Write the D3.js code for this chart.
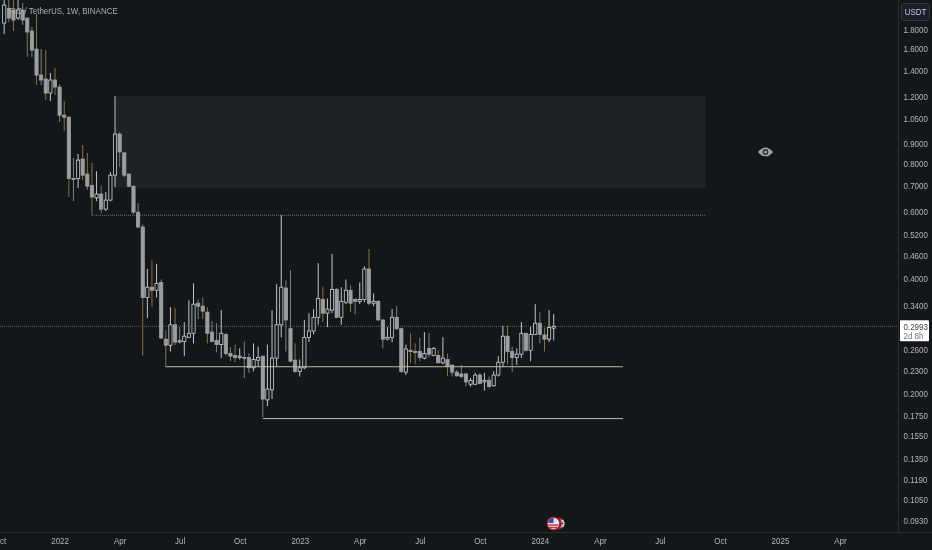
<!DOCTYPE html>
<html>
<head>
<meta charset="utf-8">
<script src="https://cdn.jsdelivr.net/npm/d3@7"></script>
<style>
html,body{margin:0;padding:0;background:#131719;overflow:hidden}
svg{display:block;filter:blur(.35px)}
text{font-family:"Liberation Sans",Arial,sans-serif}
</style>
</head>
<body>
<svg id="chart" width="932" height="550"></svg>
<script>
// Weekly candles, oldest first
const opens=[1.866,2.04,2.018,1.923,2.018,1.923,1.778,1.595,1.363,1.331,1.223,1.323,1.268,1.07,1.057,.73,.73,.821,.75,.70,.65,.665,.607,.641,.745,.955,.852,.75,.697,.596,.545,.356,.379,.372,.39,.277,.267,.302,.275,.273,.28,.287,.344,.338,.326,.289,.275,.268,.285,.254,.251,.248,.248,.248,.233,.244,.25,.192,.204,.247,.302,.377,.295,.244,.228,.233,.28,.291,.316,.352,.324,.33,.374,.316,.346,.372,.352,.348,.352,.423,.344,.348,.311,.277,.28,.316,.295,.227,.259,.257,.257,.247,.262,.251,.251,.24,.245,.237,.227,.2245,.2245,.211,.211,.223,.214,.216,.209,.223,.241,.282,.257,.248,.253,.287,.259,.285,.305,.284,.277,.296];
const highs=[2.144,2.17,2.144,2.157,2.105,1.923,1.82,1.97,1.595,1.585,1.38,1.422,1.29,1.165,1.064,.826,.847,.894,.852,.802,.763,.70,.673,.759,1.20,.966,.857,.75,.70,.629,.554,.423,.446,.436,.397,.2925,.336,.334,.298,.307,.35,.388,.352,.356,.336,.309,.305,.33,.287,.264,.268,.262,.273,.254,.27,.265,.25,.268,.33,.386,.585,.395,.42,.27,.245,.311,.324,.332,.438,.381,.354,.463,.377,.379,.397,.383,.354,.39,.43,.477,.365,.35,.3125,.298,.332,.338,.297,.268,.287,.27,.279,.289,.287,.264,.259,.28,.254,.237,.23,.237,.226,.219,.226,.226,.226,.221,.228,.25,.30,.30,.265,.262,.307,.287,.298,.342,.326,.297,.33,.322];
const lows=[1.747,1.877,1.778,1.90,1.843,1.519,1.519,1.283,1.283,1.172,1.165,1.208,1.027,.972,.653,.637,.689,.723,.681,.585,.637,.593,.60,.637,.693,.783,.736,.693,.589,.541,.251,.3145,.336,.356,.277,.234,.257,.267,.27,.25,.279,.27,.3125,.3125,.27,.272,.256,.247,.251,.2425,.241,.245,.219,.226,.228,.235,.173,.185,.193,.235,.28,.257,.241,.226,.221,.231,.272,.285,.302,.307,.298,.324,.3145,.302,.342,.326,.322,.342,.346,.34,.338,.309,.262,.275,.272,.2925,.226,.223,.24,.238,.2425,.245,.248,.25,.24,.238,.222,.221,.221,.219,.208,.208,.21,.211,.203,.206,.208,.221,.234,.238,.227,.237,.247,.257,.2425,.284,.27,.257,.272,.275];
const closes=[2.08,1.923,1.90,2.018,1.90,1.767,1.585,1.363,1.323,1.223,1.323,1.268,1.07,1.057,.73,.727,.816,.745,.697,.653,.665,.607,.641,.745,.955,.857,.745,.697,.596,.545,.356,.379,.372,.388,.279,.267,.302,.272,.272,.282,.287,.342,.338,.328,.287,.273,.268,.287,.254,.25,.248,.25,.247,.233,.245,.248,.193,.205,.247,.302,.379,.311,.2425,.228,.233,.28,.291,.316,.354,.324,.332,.374,.316,.348,.372,.344,.348,.352,.423,.344,.348,.311,.277,.28,.316,.295,.228,.261,.257,.256,.248,.254,.253,.262,.24,.247,.235,.227,.222,.221,.214,.216,.223,.212,.216,.208,.223,.241,.282,.257,.248,.253,.287,.259,.285,.305,.285,.277,.297,.2993];
const amberWicks=[2,5,7,9,11,13,14,17,18,19,21,25,30,32,35,37,43,44,50,63,69,75,79,88,89,94,96,109,116,117];

const tickWeeks=[-1,12,25,38,51,64,77,90,103,116,129,142,155,168,181];
const tickLabels=["Oct","2022","Apr","Jul","Oct","2023","Apr","Jul","Oct","2024","Apr","Jul","Oct","2025","Apr"];
const priceTicks=[1.8,1.6,1.4,1.2,1.05,.9,.8,.7,.6,.52,.46,.4,.34,.26,.23,.2,.175,.155,.135,.119,.105,.093];

const zonePrices=[1.2,.69];
const zoneWeeks=[24,152];
const dottedPrice=.585;
const dottedWeeks=[19,152];
const levelPrices=[.2345,.1715];
const levelStartWeeks=[35,56];
const levelEndWeek=134;
const lastPrice=.2993;
const countdown="2d 8h";

const svg=d3.select("#chart");
const x=d3.scaleLinear().domain([0,119]).range([4.2,553.7]);
const y=d3.scaleLog().domain([1.8,.093]).range([29,520]);
const bg="#131719";

// the reference's type is condensed: keep its height, narrow its advance
function condense(sel){
  sel.each(function(){
    const len=this.getComputedTextLength();
    d3.select(this).attr("textLength",len*.83).attr("lengthAdjust","spacingAndGlyphs");
  });
}

svg.append("rect").attr("width",932).attr("height",550).attr("fill",bg);

const plot=svg.append("g");
plot.append("rect")
  .attr("x",x(zoneWeeks[0])).attr("y",y(zonePrices[0]))
  .attr("width",x(zoneWeeks[1])-x(zoneWeeks[0])).attr("height",y(zonePrices[1])-y(zonePrices[0]))
  .attr("fill","#1e2225");

plot.append("line").attr("x1",0).attr("x2",898).attr("y1",y(lastPrice)).attr("y2",y(lastPrice))
  .attr("stroke","#6b5a4c").attr("stroke-width",1).attr("stroke-dasharray","1 1");

plot.append("line").attr("x1",x(dottedWeeks[0])).attr("x2",x(dottedWeeks[1]))
  .attr("y1",y(dottedPrice)).attr("y2",y(dottedPrice))
  .attr("stroke","#7d7668").attr("stroke-width",1).attr("stroke-dasharray","1 1");

const idx=d3.range(opens.length);
const candles=plot.append("g");
candles.selectAll("line").data(idx).join("line")
  .attr("x1",i=>x(i)).attr("x2",i=>x(i))
  .attr("y1",i=>y(highs[i])).attr("y2",i=>y(lows[i]))
  .attr("stroke",i=>amberWicks.includes(i)?"#8c6f45":(closes[i]>=opens[i]?"#c4c6c8":"#7e8184"))
  .attr("stroke-width",1);
candles.selectAll("rect").data(idx).join("rect")
  .attr("x",i=>x(i)-1.6).attr("width",3.2)
  .attr("y",i=>y(Math.max(opens[i],closes[i])))
  .attr("height",i=>Math.max(1,Math.abs(y(opens[i])-y(closes[i]))))
  .attr("fill",i=>closes[i]>=opens[i]?bg:"#9b9d9f")
  .attr("stroke",i=>closes[i]>=opens[i]?"#d0d1d2":"#a0a2a4")
  .attr("stroke-width",.8);

levelPrices.forEach((p,k)=>{
  plot.append("line").attr("x1",x(levelStartWeeks[k])).attr("x2",x(levelEndWeek))
    .attr("y1",y(p)).attr("y2",y(p)).attr("stroke","#bdbcb0").attr("stroke-width",1);
});

// Price axis
svg.append("rect").attr("x",898).attr("y",0).attr("width",34).attr("height",550).attr("fill",bg);
const yAxis=d3.axisRight(y).tickValues(priceTicks).tickFormat(d3.format(".4f")).tickSize(0).tickPadding(0);
const gy=svg.append("g").attr("transform","translate(903.5,0)").call(yAxis);
gy.select(".domain").remove();
gy.selectAll("text").attr("fill","#b4b6bc").attr("font-size",9.6).call(condense);
svg.append("line").attr("x1",898.5).attr("x2",898.5).attr("y1",0).attr("y2",550).attr("stroke","#2a2e31");

// Time axis
svg.append("rect").attr("x",0).attr("y",532).attr("width",932).attr("height",18).attr("fill",bg);
const xAxis=d3.axisBottom(x).tickValues(tickWeeks).tickFormat((d,i)=>tickLabels[i]).tickSize(0).tickPadding(5);
const gx=svg.append("g").attr("transform","translate(0,532)").call(xAxis);
gx.select(".domain").remove();
gx.selectAll("text").attr("fill","#b4b6bc").attr("font-size",9.6).call(condense);
svg.append("line").attr("x1",0).attr("x2",932).attr("y1",532.5).attr("y2",532.5).attr("stroke","#2a2e31");

// Header
svg.append("text").attr("x",9).attr("y",13.5).attr("font-size",9.6).attr("fill","#a9abb0").text("FIO / TetherUS, 1W, BINANCE").call(condense);

// Currency button
svg.append("rect").attr("x",901.5).attr("y",3.5).attr("width",28).attr("height",17).attr("rx",2)
  .attr("fill","#1b1f2b").attr("stroke","#34383f");
svg.append("text").attr("x",915.5).attr("y",15).attr("text-anchor","middle").attr("font-size",9.6)
  .attr("fill","#c4c6cc").text("USDT").call(condense);

// Last price tag
svg.append("rect").attr("x",900).attr("y",y(lastPrice)-6).attr("width",29).attr("height",21).attr("rx",1).attr("fill","#ffffff");
svg.append("text").attr("x",903.5).attr("y",y(lastPrice)+3.5).attr("font-size",9.6).attr("fill","#3a3d44").text(d3.format(".4f")(lastPrice)).call(condense);
svg.append("text").attr("x",903.5).attr("y",y(lastPrice)+12.8).attr("font-size",9.6).attr("fill","#6d7078").text(countdown).call(condense);

// Eye icon
const eye=svg.append("g").attr("transform","translate(765.5,152)");
eye.append("path").attr("d","M-7.5,0 Q0,-9 7.5,0 Q0,9 -7.5,0 Z").attr("fill","#a2a4a6");
eye.append("circle").attr("r",2.9).attr("fill","#2a2d2f");
eye.append("circle").attr("r",1.5).attr("fill","#a2a4a6");

// Economic event markers
const ev=svg.append("g").attr("transform","translate(553.5,523.5)");
ev.append("circle").attr("cx",5).attr("r",6.3).attr("fill","#7a1c2a");
ev.append("path").attr("d","M7,-3.5 a3.5,3.5 0 0 1 0,7 M7.5,-1.5 h2.5 M7.5,1.5 h2.5").attr("fill","none").attr("stroke","#e8dfe0").attr("stroke-width",1.2);
ev.append("circle").attr("r",6.3).attr("fill","#e4e4ec").attr("stroke","#a32134").attr("stroke-width",1.2);
ev.append("path").attr("d","M-5,1.5 h10 M-4.2,4 h8.4").attr("stroke","#c9384a").attr("stroke-width",1.4);
ev.append("path").attr("d","M-5.4,-.5 A5.6,5.6 0 0 1 0,-5.4 V-.5 Z").attr("fill","#33509a");
</script>
</body>
</html>
